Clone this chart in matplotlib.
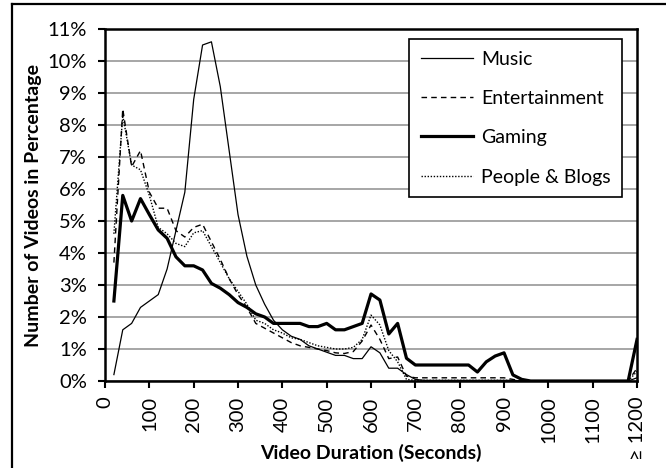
import matplotlib.pyplot as plt
from matplotlib.lines import Line2D
from matplotlib.ticker import FuncFormatter

plt.rcParams['font.family'] = ['Lato', 'DejaVu Sans']

# durations in seconds, one bin every 20 s (1200 = ">= 1200")
durations = list(range(20, 1201, 20))

music = [0.2, 1.6, 1.8, 2.3, 2.5, 2.7, 3.5, 4.7, 5.9, 8.8,
         10.5, 10.6, 9.2, 7.2, 5.2, 3.9, 3.0, 2.4, 1.9, 1.6,
         1.4, 1.3, 1.1, 1.0, 0.9, 0.8, 0.8, 0.7, 0.7, 1.07,
         0.88, 0.4, 0.4, 0.2, 0.05, 0.02, 0.02, 0.02, 0.02, 0.02,
         0.02, 0.02, 0.02, 0.02, 0.02, 0.02, 0.0, 0.0, 0.0, 0.0,
         0.0, 0.0, 0.0, 0.0, 0.0, 0.0, 0.0, 0.0, 0.0, 0.1]

entertainment = [3.7, 8.5, 6.7, 7.2, 5.9, 5.4, 5.4, 4.7, 4.5, 4.8,
                 4.9, 4.35, 3.8, 3.2, 2.7, 2.3, 1.8, 1.65, 1.5, 1.35,
                 1.2, 1.1, 1.05, 1.0, 0.95, 0.88, 0.86, 0.92, 1.25, 1.75,
                 1.3, 0.7, 0.75, 0.15, 0.1, 0.1, 0.1, 0.1, 0.1, 0.1,
                 0.1, 0.1, 0.1, 0.1, 0.1, 0.05, 0.0, 0.0, 0.0, 0.0,
                 0.0, 0.0, 0.0, 0.0, 0.0, 0.0, 0.0, 0.0, 0.0, 0.4]

gaming = [2.5, 5.8, 5.0, 5.7, 5.2, 4.72, 4.46, 3.88, 3.6, 3.6,
          3.47, 3.05, 2.9, 2.7, 2.45, 2.3, 2.1, 2.0, 1.8, 1.8,
          1.8, 1.8, 1.7, 1.7, 1.8, 1.6, 1.6, 1.7, 1.8, 2.72,
          2.53, 1.47, 1.8, 0.71, 0.5, 0.5, 0.5, 0.5, 0.5, 0.5,
          0.5, 0.28, 0.6, 0.78, 0.88, 0.19, 0.05, 0.0, 0.0, 0.0,
          0.0, 0.0, 0.0, 0.0, 0.0, 0.0, 0.0, 0.0, 0.0, 1.3]

people_blogs = [4.6, 8.3, 6.75, 6.6, 5.8, 4.8, 4.6, 4.3, 4.2, 4.63,
                4.7, 4.2, 3.7, 3.2, 2.8, 2.4, 1.9, 1.8, 1.6, 1.5,
                1.35, 1.3, 1.2, 1.1, 1.05, 1.0, 1.0, 1.05, 1.3, 2.06,
                1.75, 0.95, 0.6, 0.05, 0.02, 0.02, 0.02, 0.02, 0.02, 0.02,
                0.02, 0.02, 0.02, 0.02, 0.02, 0.02, 0.0, 0.0, 0.0, 0.0,
                0.0, 0.0, 0.0, 0.0, 0.0, 0.0, 0.0, 0.0, 0.0, 0.3]

x_ticks = list(range(0, 1201, 100))
x_labels = [str(t) for t in x_ticks[:-1]] + ['\u2265 1200']
y_ticks = list(range(0, 12))

fig = plt.figure(figsize=(6.66, 4.68), dpi=100)
ax = fig.add_axes([0.1577, 0.1859, 0.7988, 0.7521])

ax.plot(durations, music, color='black', lw=0.9, label='Music')
ax.plot(durations, entertainment, color='black', lw=1.0, ls=(0, (4, 3)), label='Entertainment')
ax.plot(durations, gaming, color='black', lw=2.3, label='Gaming')
ax.plot(durations, people_blogs, color='black', lw=1.0, ls=(0, (1, 1.2)), label='People & Blogs')

ax.set_xlim(0, 1200)
ax.set_ylim(0, 11)
ax.set_xticks(x_ticks)
ax.set_xticklabels(x_labels, rotation=90)
ax.set_yticks(y_ticks)
ax.yaxis.set_major_formatter(FuncFormatter(lambda v, p: '%d%%' % v))
ax.tick_params(axis='both', direction='out', length=5, width=1.5, labelsize=14.5, color='black')
ax.tick_params(axis='x', pad=6)
ax.tick_params(axis='y', pad=8)

ax.grid(axis='y', color='#a6a6a6', lw=1.4)
ax.set_axisbelow(True)
for s in ax.spines.values():
    s.set_linewidth(1.8)
    s.set_color('black')

ax.set_xlabel('Video Duration (Seconds)', fontsize=14, fontweight='bold', va='center')
ax.xaxis.set_label_coords(0.5, -0.205)
ax.set_ylabel('Number of Videos in Percentage', fontsize=14, fontweight='bold', va='center')
ax.yaxis.set_label_coords(-0.135, 0.5)

leg = ax.legend(loc='upper right', bbox_to_anchor=(0.972, 0.972), borderaxespad=0,
                fontsize=14, handlelength=2.7, handletextpad=0.4, labelspacing=1.15,
                borderpad=0.6, fancybox=False, framealpha=1, edgecolor='black')
leg.get_frame().set_linewidth(1.2)

# outer frame of the figure (top and left edges)
fig.add_artist(Line2D([12 / 666, 12 / 666], [0, 1 - 4 / 468], color='black', lw=1.6,
                      transform=fig.transFigure))
fig.add_artist(Line2D([12 / 666, 1], [1 - 4 / 468, 1 - 4 / 468], color='black', lw=1.6,
                      transform=fig.transFigure))

fig.savefig('out.png', dpi=100)
